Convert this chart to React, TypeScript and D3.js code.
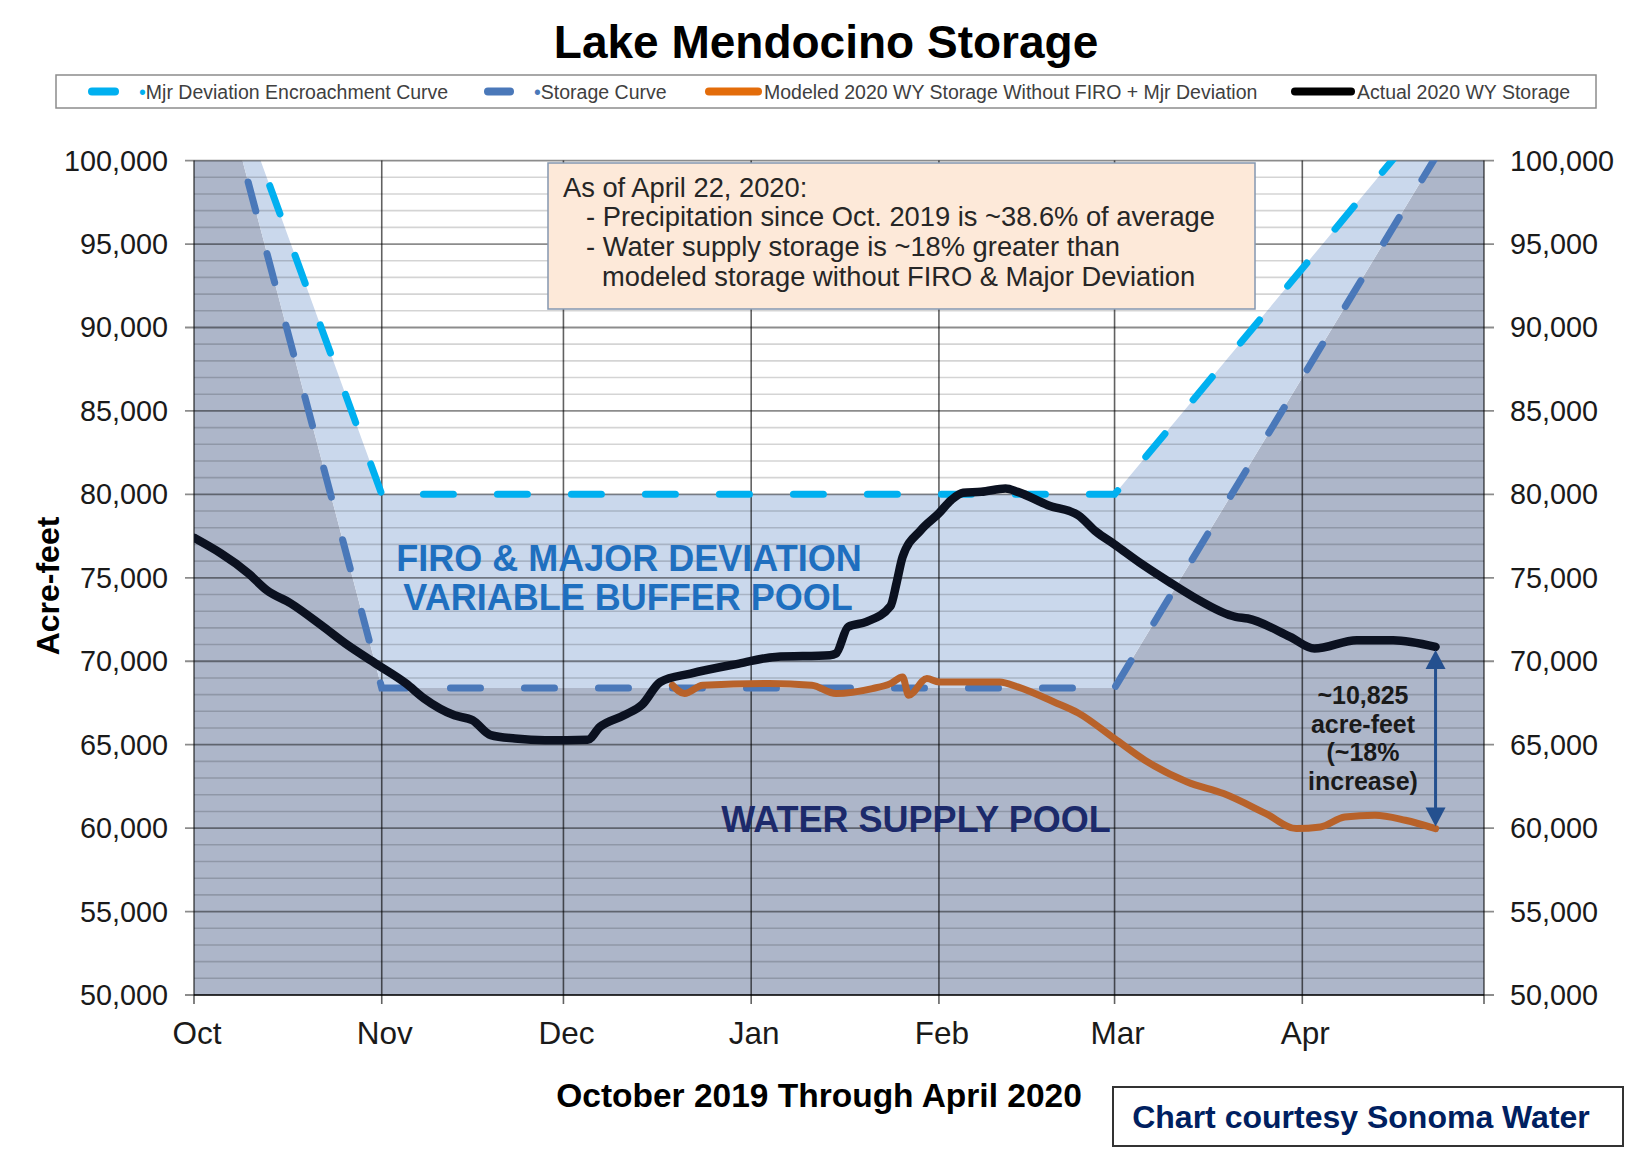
import React from "react";
import * as d3 from "d3";

const parse = d3.timeParse("%Y-%m-%d");

// ---------- data ----------
const monthLabels = ["Oct", "Nov", "Dec", "Jan", "Feb", "Mar", "Apr"];
const monthStarts = ["2019-10-01", "2019-11-01", "2019-12-01", "2020-01-01", "2020-02-01", "2020-03-01", "2020-04-01", "2020-05-01"];
const yTickValues = [50000, 55000, 60000, 65000, 70000, 75000, 80000, 85000, 90000, 95000, 100000];

const curveDates = ["2019-10-01", "2019-11-01", "2020-03-01", "2020-05-11"];
const storageCurve = [111000, 68400, 68400, 111000];
const encroachmentCurve = [111000, 80000, 80000, 111000];

const actualDates = [
  "2019-10-01", "2019-10-10", "2019-10-13", "2019-10-17", "2019-10-22", "2019-10-26", "2019-10-31",
  "2019-11-05", "2019-11-08", "2019-11-13", "2019-11-16", "2019-11-19", "2019-11-23", "2019-11-28",
  "2019-12-05", "2019-12-07", "2019-12-11", "2019-12-14", "2019-12-17", "2019-12-22", "2019-12-30",
  "2020-01-05", "2020-01-14", "2020-01-15", "2020-01-17", "2020-01-20", "2020-01-24", "2020-01-25", "2020-01-26", "2020-01-29",
  "2020-02-01", "2020-02-03", "2020-02-05", "2020-02-08", "2020-02-12", "2020-02-14", "2020-02-19", "2020-02-24", "2020-02-27",
  "2020-03-01", "2020-03-05", "2020-03-10", "2020-03-14", "2020-03-21", "2020-03-23", "2020-03-30",
  "2020-04-03", "2020-04-10", "2020-04-16", "2020-04-23",
];
const actualValues = [
  77400, 75260, 74260, 73460, 72160, 71060, 69860,
  68670, 67770, 66760, 66460, 65570, 65370, 65270,
  65300, 66060, 66760, 67400, 68760, 69260, 69860,
  70260, 70360, 70460, 72060, 72360, 73300, 74680, 76250, 77850,
  78870, 79650, 80100, 80150, 80350, 80150, 79350, 78750, 77750,
  77000, 75950, 74760, 73860, 72660, 72560, 71460,
  70760, 71260, 71260, 70860,
];

const modeledDates = [
  "2019-12-19", "2019-12-21", "2019-12-24",
  "2020-01-04", "2020-01-11", "2020-01-15", "2020-01-21", "2020-01-24", "2020-01-26", "2020-01-27", "2020-01-30",
  "2020-02-01", "2020-02-06", "2020-02-11", "2020-02-14", "2020-02-20", "2020-02-24",
  "2020-03-01", "2020-03-06", "2020-03-13", "2020-03-19", "2020-03-26", "2020-03-31",
  "2020-04-04", "2020-04-08", "2020-04-13", "2020-04-18", "2020-04-23",
];
const modeledValues = [
  68560, 68060, 68560,
  68660, 68560, 68060, 68360, 68660, 69060, 67960, 68960,
  68760, 68760, 68760, 68460, 67560, 66900,
  65360, 64070, 62770, 62070, 60870, 59970,
  60070, 60670, 60770, 60470, 59970,
];

const legendItems = [
  { label: "Mjr Deviation Encroachment Curve", color: "#00b0f0", bullet: true },
  { label: "Storage Curve", color: "#4a78b9", bullet: true },
  { label: "Modeled 2020 WY Storage Without FIRO + Mjr Deviation", color: "#e36c0a", bullet: false },
  { label: "Actual 2020 WY Storage", color: "#000000", bullet: false },
];

const noteLines = [
  "As of April 22, 2020:",
  "- Precipitation since Oct. 2019 is ~38.6% of average",
  "- Water supply storage is ~18% greater than",
  "modeled storage without FIRO & Major Deviation",
];
const diffLines = ["~10,825", "acre-feet", "(~18%", "increase)"];

const FONT = "'Liberation Sans', Arial, Helvetica, sans-serif";

export default function App() {
  const W = 1625, H = 1153;
  const left = 194, right = 1484, top = 160.6, bottom = 995;

  const x = d3.scaleTime().domain([parse("2019-10-01") as Date, parse("2020-05-01") as Date]).range([left, right]);
  const y = d3.scaleLinear().domain([50000, 100000]).range([bottom, top]);

  const curves = curveDates.map((d, i) => ({ date: parse(d) as Date, s: storageCurve[i], e: encroachmentCurve[i] }));
  const actual = actualDates.map((d, i) => ({ date: parse(d) as Date, v: actualValues[i] }));
  const modeled = modeledDates.map((d, i) => ({ date: parse(d) as Date, v: modeledValues[i] }));

  const darkArea = d3.area<any>().x(d => x(d.date)).y0(y(50000)).y1(d => y(d.s))(curves) || "";
  const lightArea = d3.area<any>().x(d => x(d.date)).y0(d => y(d.s)).y1(d => y(d.e))(curves) || "";
  const storageLine = d3.line<any>().x(d => x(d.date)).y(d => y(d.s))(curves) || "";
  const encLine = d3.line<any>().x(d => x(d.date)).y(d => y(d.e))(curves) || "";
  const valLine = d3.line<any>().x(d => x(d.date)).y(d => y(d.v)).curve(d3.curveMonotoneX);
  const actualPath = valLine(actual) || "";
  const modeledPath = valLine(modeled) || "";

  const minorTicks = y.ticks(50).filter(v => !yTickValues.includes(v));
  const months = monthStarts.map(d => parse(d) as Date);

  const lastA = actual[actual.length - 1];
  const lastM = modeled[modeled.length - 1];
  const ax = x(lastA.date);
  const ayTop = y(lastA.v) + 3;
  const ayBot = y(lastM.v) - 2;
  const headH = 19, headW = 10;

  const legendX = [88, 484, 705, 1291];
  const legendW = [31, 30, 57, 64];

  return (
    <svg width={W} height={H} style={{ position: "absolute", left: 0, top: 0, background: "#fff" }} fontFamily={FONT}>
      <defs>
        <clipPath id="plotClip">
          <rect x={left} y={top} width={right - left} height={bottom - top} />
        </clipPath>
      </defs>
      <rect x={0} y={0} width={W} height={H} fill="#ffffff" />

      {/* title */}
      <text x={826} y={42} textAnchor="middle" dominantBaseline="central" fontSize={46} fontWeight="bold" fill="#000">
        Lake Mendocino Storage
      </text>

      {/* legend */}
      <rect x={56} y={75} width={1540} height={33} fill="#fff" stroke="#8c8c8c" strokeWidth={1.5} />
      {legendItems.map((it, i) => (
        <g key={it.label}>
          <line x1={legendX[i] + 4} x2={legendX[i] + legendW[i] - 4} y1={91.5} y2={91.5} stroke={it.color} strokeWidth={8} strokeLinecap="round" />
          <text x={legendX[i] + legendW[i] + (it.bullet ? 20 : 2)} y={91.5} dominantBaseline="central" fontSize={19.5} fill="#404040">
            {it.bullet ? <tspan fill={it.color}>•</tspan> : null}
            {it.label}
          </text>
        </g>
      ))}

      {/* fills */}
      <g clipPath="url(#plotClip)">
        <path d={darkArea} fill="#adb6c9" />
        <path d={lightArea} fill="#cad8ec" />
      </g>

      {/* horizontal gridlines */}
      {minorTicks.map(v => (
        <line key={"m" + v} x1={left} x2={right} y1={y(v)} y2={y(v)} stroke="rgba(0,0,0,0.17)" strokeWidth={1.6} />
      ))}
      {yTickValues.map(v => (
        <line key={"M" + v} x1={left - 9} x2={right + 10} y1={y(v)} y2={y(v)} stroke="rgba(0,0,0,0.45)" strokeWidth={1.8} />
      ))}

      {/* vertical month lines */}
      {months.map((m, i) => (
        <line key={"v" + i} x1={x(m)} x2={x(m)} y1={top} y2={bottom + 9} stroke="rgba(0,0,0,0.62)" strokeWidth={1.6} />
      ))}
      <line x1={left} x2={right} y1={bottom} y2={bottom} stroke="rgba(0,0,0,0.6)" strokeWidth={1.8} />

      {/* y labels */}
      {yTickValues.map(v => (
        <g key={"l" + v}>
          <text x={168} y={y(v)} textAnchor="end" dominantBaseline="central" fontSize={28.8} fill="#1a1a1a">
            {d3.format(",")(v)}
          </text>
          <text x={1510} y={y(v)} textAnchor="start" dominantBaseline="central" fontSize={28.8} fill="#1a1a1a">
            {d3.format(",")(v)}
          </text>
        </g>
      ))}

      {/* x labels */}
      {monthLabels.map((lab, i) => (
        <text key={lab} x={x(months[i]) + 3} y={1033} textAnchor="middle" dominantBaseline="central" fontSize={31.5} fill="#1a1a1a">
          {lab}
        </text>
      ))}

      {/* axis titles */}
      <text transform={`translate(48,586) rotate(-90)`} textAnchor="middle" dominantBaseline="central" fontSize={32} fontWeight="bold" fill="#000">
        Acre-feet
      </text>
      <text x={819} y={1095} textAnchor="middle" dominantBaseline="central" fontSize={33.5} fontWeight="bold" fill="#000">
        October 2019 Through April 2020
      </text>

      {/* curves */}
      <g clipPath="url(#plotClip)">
        <path d={encLine} fill="none" stroke="#00b0f0" strokeWidth={7} strokeLinecap="round" strokeDasharray="30 44" />
        <path d={storageLine} fill="none" stroke="#4a78b9" strokeWidth={7} strokeLinecap="round" strokeDasharray="30 44" strokeDashoffset={10} />
        <path d={modeledPath} fill="none" stroke="#b8622a" strokeWidth={7} strokeLinecap="round" strokeLinejoin="round" />
        <path d={actualPath} fill="none" stroke="#0b1120" strokeWidth={8.5} strokeLinecap="round" strokeLinejoin="round" />
      </g>

      {/* pool labels */}
      <text x={629} y={558} textAnchor="middle" dominantBaseline="central" fontSize={36} fontWeight="bold" fill="#1f6fbf">
        FIRO &amp; MAJOR DEVIATION
      </text>
      <text x={628} y={597} textAnchor="middle" dominantBaseline="central" fontSize={36} fontWeight="bold" fill="#1f6fbf">
        VARIABLE BUFFER POOL
      </text>
      <text x={916} y={819} textAnchor="middle" dominantBaseline="central" fontSize={36} fontWeight="bold" fill="#1c2a6b">
        WATER SUPPLY POOL
      </text>

      {/* difference arrow */}
      <line x1={ax} x2={ax} y1={ayTop + headH - 2} y2={ayBot - headH + 2} stroke="#24508f" strokeWidth={3} />
      <path d={`M${ax},${ayTop} L${ax - headW},${ayTop + headH} L${ax + headW},${ayTop + headH} Z`} fill="#24508f" />
      <path d={`M${ax},${ayBot} L${ax - headW},${ayBot - headH} L${ax + headW},${ayBot - headH} Z`} fill="#24508f" />
      {diffLines.map((t, i) => (
        <text key={t} x={1363} y={695 + i * 28.5} textAnchor="middle" dominantBaseline="central" fontSize={25} fontWeight="bold" fill="#1a1a1a">
          {t}
        </text>
      ))}

      {/* note box */}
      <rect x={548} y={163} width={707} height={146} fill="#fde9d9" stroke="#8497b0" strokeWidth={1.5} />
      {noteLines.map((t, i) => (
        <text key={t} x={i === 0 ? 563 : i === 3 ? 602 : 586} y={187 + i * 29.7} dominantBaseline="central" fontSize={27.3} fill="#262626">
          {t}
        </text>
      ))}

      {/* credit */}
      <rect x={1113} y={1087} width={510} height={59} fill="#fff" stroke="#333" strokeWidth={2} />
      <text x={1361} y={1117} textAnchor="middle" dominantBaseline="central" fontSize={32} fontWeight="bold" fill="#002060">
        Chart courtesy Sonoma Water
      </text>
    </svg>
  );
}
